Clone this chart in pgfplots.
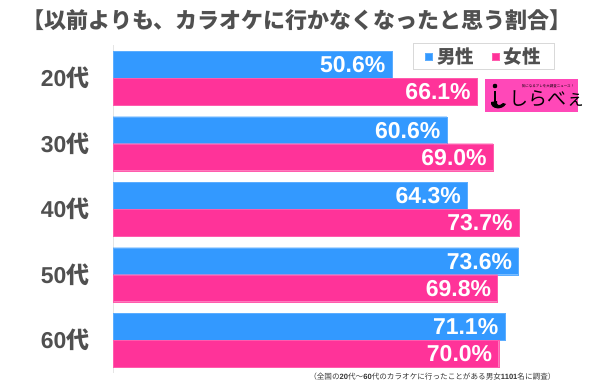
\documentclass[border=0pt]{standalone}
\usepackage{pgfplots}
\pgfplotsset{compat=1.18}
\usepackage{fontspec}
\setmainfont{Liberation Sans}
\newfontfamily\jp{Noto Sans CJK JP}
\definecolor{mblue}{RGB}{51,153,255}
\definecolor{fpink}{RGB}{255,51,153}
\definecolor{tgray}{RGB}{80,80,80}
\definecolor{logopink}{RGB}{255,72,184}
\begin{document}
\begin{tikzpicture}[x=1pt,y=1pt]
\path (0,0) rectangle (600,388);
\node[font=\fontsize{22}{22}\selectfont\bfseries\jp, text=tgray] at (297,368) {【以前よりも、カラオケに行かなくなったと思う割合】};
\begin{axis}[
  at={(113pt,15pt)}, anchor=south west, scale only axis,
  width=440.8pt, height=327.5pt,
  xmin=0, xmax=80, ymin=-0.5, ymax=4.5,
  xbar, bar width=27pt,
  axis x line=none, axis y line=left,
  y axis line style={-, draw=gray!20},
  ytick={0,1,2,3,4},
  yticklabels={{60{\jp 代}},{50{\jp 代}},{40{\jp 代}},{30{\jp 代}},{20{\jp 代}}},
  ytick style={draw=none},
  yticklabel style={font=\fontsize{23}{23}\selectfont\bfseries, text=tgray, xshift=-18pt},
  point meta=x,
  nodes near coords={\pgfmathprintnumber[fixed,fixed zerofill,precision=1,assume math mode=true]{\pgfplotspointmeta}\%},
  every node near coord/.append style={anchor=east, xshift=-3pt, text=white, font=\fontsize{23}{23}\selectfont\bfseries},
  legend columns=2,
  legend image code/.code={\fill[#1] (0pt,-3.5pt) rectangle (7pt,3.5pt);},
  legend style={at={(0.8417,0.9664)}, anchor=center, draw=gray!30, line width=0.8pt,
    font=\fontsize{18.5}{18.5}\selectfont\bfseries\jp, text=tgray,
    inner xsep=12pt, inner ysep=2pt,
    /tikz/every odd column/.append style={column sep=2pt},
    /tikz/every even column/.append style={column sep=16pt}},
  clip=false,
]
\addplot[fill=mblue, draw=mblue!80!white, bar shift=13.5pt] coordinates {(50.6,4) (60.6,3) (64.3,2) (73.6,1) (71.1,0)};
\addlegendentry{男性}
\addplot[fill=fpink, draw=fpink!80!white, bar shift=-13.5pt] coordinates {(66.1,4) (69.0,3) (73.7,2) (69.8,1) (70.0,0)};
\addlegendentry{女性}
\end{axis}
% logo
\fill[logopink] (485,276) rectangle (578,309);
\node[font=\fontsize{19}{19}\selectfont\jp, anchor=west, inner sep=0pt] at (509,289) {しらべぇ};
\node[font=\fontsize{3.5}{3.5}\selectfont\jp] at (548,302) {気になるアレを大調査ニュース！};
\fill[black] (495,302) circle (2.3);
\draw[black, line width=2.6pt] (495,297) -- (495,286);
\fill[black] (491,286) .. controls (490,279) and (502,277) .. (506,284) -- (503,285) .. controls (500,282) and (496,282) .. (497,287) -- cycle;
% footnote
\node[anchor=east, font=\fontsize{7.6}{7.6}\selectfont\jp, text=black!80] at (559,11) {（全国の{\rmfamily\bfseries 20}代～{\rmfamily\bfseries 60}代のカラオケに行ったことがある男女{\rmfamily\bfseries 1101}名に調査）};
\end{tikzpicture}
\end{document}
